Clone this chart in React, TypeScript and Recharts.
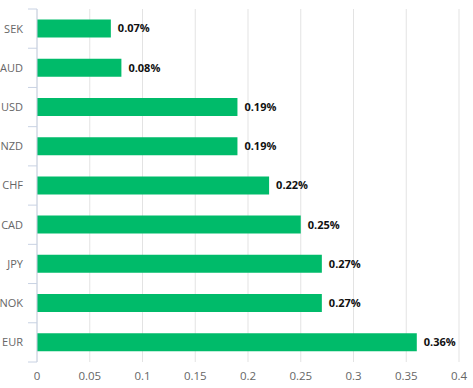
import React from "react";
import { BarChart, Bar, XAxis, YAxis, CartesianGrid, LabelList } from "recharts";

const currencies = ["SEK", "AUD", "USD", "NZD", "CHF", "CAD", "JPY", "NOK", "EUR"];
const rates = [0.07, 0.08, 0.19, 0.19, 0.22, 0.25, 0.27, 0.27, 0.36];
const xTicks = [0, 0.05, 0.1, 0.15, 0.2, 0.25, 0.3, 0.35, 0.4];

const W = 473;
const H = 388;
const AXIS_W = 37;
const TOP = 9;
const BOTTOM_H = 26;

const chartData = currencies.map((c, i) => ({ name: c, value: rates[i] }));

const band = (H - TOP - BOTTOM_H) / currencies.length;

// category ticks sit on the band edges, labels on the centers
const CurrencyTick = (props: any) => {
  const { x, y, payload, index } = props;
  const top = y - band / 2;
  return (
    <g>
      <line x1={AXIS_W - 9} x2={AXIS_W} y1={top} y2={top} stroke="#c8d2e3" />
      {index === currencies.length - 1 && (
        <line x1={AXIS_W - 9} x2={AXIS_W} y1={y + band / 2} y2={y + band / 2} stroke="#c8d2e3" />
      )}
      <text x={x} y={y} dy="0.355em" textAnchor="end" fill="#666" fontSize={11}>
        {payload.value}
      </text>
    </g>
  );
};

const App: React.FC = () => {
  return (
    <div style={{ position: "fixed", left: 0, top: 0, background: "#fff", fontFamily: "'Open Sans', sans-serif" }}>
      <BarChart
        width={W}
        height={H}
        data={chartData}
        layout="vertical"
        margin={{ top: TOP, right: 14, left: 0, bottom: 0 }}
        barCategoryGap={10.5}
      >
        <CartesianGrid horizontal={false} stroke="#e3e3e3" />
        <XAxis
          type="number"
          domain={[0, 0.4]}
          ticks={xTicks}
          axisLine={false}
          tickLine={false}
          height={BOTTOM_H}
          tickMargin={4}
          tick={{ fill: "#666", fontSize: 11.5 }}
        />
        <YAxis
          type="category"
          dataKey="name"
          width={AXIS_W}
          axisLine={{ stroke: "#c8d2e3" }}
          tickLine={false}
          tickMargin={8}
          tick={<CurrencyTick />}
        />
        <Bar dataKey="value" fill="#00bb6a" isAnimationActive={false}>
          <LabelList
            dataKey="value"
            position="right"
            offset={7}
            formatter={(v: any) => `${Number(v).toFixed(2)}%`}
            style={{ fill: "#111", fontSize: 11, fontWeight: 700 }}
          />
        </Bar>
      </BarChart>
    </div>
  );
};

export default App;
